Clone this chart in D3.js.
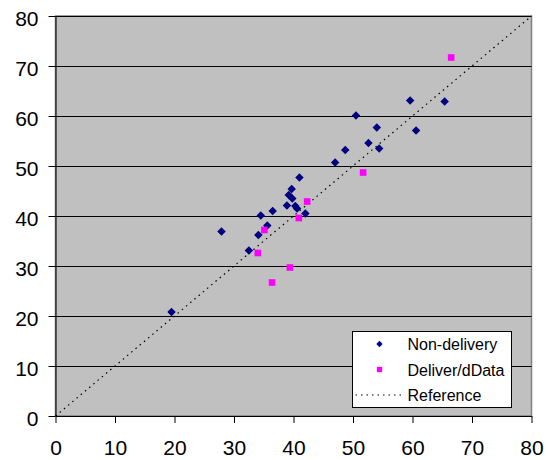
<!DOCTYPE html>
<html>
<head>
<meta charset="utf-8">
<script src="https://cdn.jsdelivr.net/npm/d3@7"></script>
<style>
  body { margin: 0; background: white; }
  text { font-family: "Liberation Sans", Arial, sans-serif; }
</style>
</head>
<body>
<div id="vis"></div>
<script>
// values
var nonDeliveryX = [19.5, 27.9, 32.5, 34.1, 34.5, 35.6, 36.5, 38.9, 39.2, 39.8, 39.7, 40.3,
                    40.6, 41.0, 42.0, 47.0, 48.7, 50.5, 52.6, 54.0, 54.4, 59.6, 60.6, 65.4];
var nonDeliveryY = [20.8, 36.9, 33.1, 36.2, 40.1, 38.1, 41.0, 42.1, 44.2, 43.5, 45.4, 42.0,
                    41.5, 47.7, 40.5, 50.7, 53.2, 60.1, 54.6, 57.7, 53.5, 63.1, 57.1, 62.9];
var deliverX = [34.0, 35.1, 36.4, 39.4, 40.9, 42.3, 51.7, 66.5];
var deliverY = [32.6, 37.2, 26.7, 29.7, 39.6, 42.9, 48.7, 71.7];
var referenceLine = [0, 80];
var tickValues = [0, 10, 20, 30, 40, 50, 60, 70, 80];
var seriesNames = ['Non-delivery', 'Deliver/dData', 'Reference'];

var width = 551, height = 460;
var margin = { top: 16, right: 20, bottom: 44, left: 55.5 };
var w = 531.5 - margin.left;
var h = 416 - margin.top;

var svg = d3.select('#vis').append('svg')
    .attr('width', width)
    .attr('height', height);

var g = svg.append('g')
    .attr('transform', 'translate(' + margin.left + ',' + margin.top + ')');

var x = d3.scaleLinear().domain([0, 80]).range([0, w]);
var y = d3.scaleLinear().domain([0, 80]).range([h, 0]);

// plot area
g.append('rect')
    .attr('width', w).attr('height', h)
    .style('fill', '#c0c0c0')
    .style('stroke', '#808080')
    .style('stroke-width', 1.5);

// gridlines
g.selectAll('line.grid')
    .data(tickValues.slice(1))
    .enter().append('line')
    .attr('class', 'grid')
    .attr('x1', 0).attr('x2', w)
    .attr('y1', function(d) { return Math.round(y(d)) + 0.5; })
    .attr('y2', function(d) { return Math.round(y(d)) + 0.5; })
    .style('stroke', '#000')
    .style('stroke-width', 1);

var xAxis = d3.axisBottom(x).tickValues(tickValues).tickSizeInner(7).tickSizeOuter(0).tickPadding(17);
var yAxis = d3.axisLeft(y).tickValues(tickValues).tickSizeInner(7).tickSizeOuter(0).tickPadding(10);

var gx = g.append('g')
    .attr('transform', 'translate(0,' + h + ')')
    .call(xAxis);
var gy = g.append('g').call(yAxis);

[gx, gy].forEach(function(a) {
    a.selectAll('path, line').style('stroke', '#000').style('stroke-width', 1);
    a.selectAll('text')
        .style('font-size', '21px')
        .style('font-family', '"Liberation Sans", Arial, sans-serif')
        .style('fill', '#000');
});
gy.selectAll('text').attr('dy', '0.45em');

// reference line
var line = d3.line()
    .x(function(d) { return x(d); })
    .y(function(d) { return y(d); });

g.append('path')
    .datum(referenceLine)
    .attr('d', line)
    .style('fill', 'none')
    .style('stroke', '#000')
    .style('stroke-width', 1.2)
    .style('stroke-dasharray', '1.5,4');

var diamond = d3.symbol().type(d3.symbolSquare).size(36);
var square = d3.symbol().type(d3.symbolSquare).size(44);

var nonDelivery = nonDeliveryX.map(function(v, i) { return [v, nonDeliveryY[i]]; });
var deliver = deliverX.map(function(v, i) { return [v, deliverY[i]]; });

g.selectAll('path.nd')
    .data(nonDelivery)
    .enter().append('path')
    .attr('class', 'nd')
    .attr('d', diamond)
    .attr('transform', function(d) { return 'translate(' + x(d[0]) + ',' + y(d[1]) + ') rotate(45)'; })
    .style('fill', '#000080');

g.selectAll('path.dd')
    .data(deliver)
    .enter().append('path')
    .attr('class', 'dd')
    .attr('d', square)
    .attr('transform', function(d) { return 'translate(' + x(d[0]) + ',' + y(d[1]) + ')'; })
    .style('fill', '#ff00ff');

// legend
var legend = svg.append('g').attr('transform', 'translate(352.5,331.5)');
legend.append('rect')
    .attr('width', 159).attr('height', 76)
    .style('fill', '#fff')
    .style('stroke', '#000')
    .style('stroke-width', 1);

var rows = legend.selectAll('g.row')
    .data(seriesNames)
    .enter().append('g')
    .attr('class', 'row')
    .attr('transform', function(d, i) { return 'translate(0,' + (12.5 + i * 25.5) + ')'; });

rows.append('text')
    .attr('x', 55)
    .attr('y', 6)
    .text(function(d) { return d; })
    .style('font-size', '16px')
    .style('fill', '#000');

rows.each(function(d, i) {
    var r = d3.select(this);
    if (i === 0) {
        r.append('path').attr('d', d3.symbol().type(d3.symbolSquare).size(20))
            .attr('transform', 'translate(27,0) rotate(45)')
            .style('fill', '#000080');
    } else if (i === 1) {
        r.append('path').attr('d', d3.symbol().type(d3.symbolSquare).size(28))
            .attr('transform', 'translate(27,0)')
            .style('fill', '#ff00ff');
    } else {
        r.append('line')
            .attr('x1', 3).attr('x2', 50)
            .attr('y1', 0).attr('y2', 0)
            .style('stroke', '#000')
            .style('stroke-width', 1.2)
            .style('stroke-dasharray', '1.5,4');
    }
});
</script>
</body>
</html>
